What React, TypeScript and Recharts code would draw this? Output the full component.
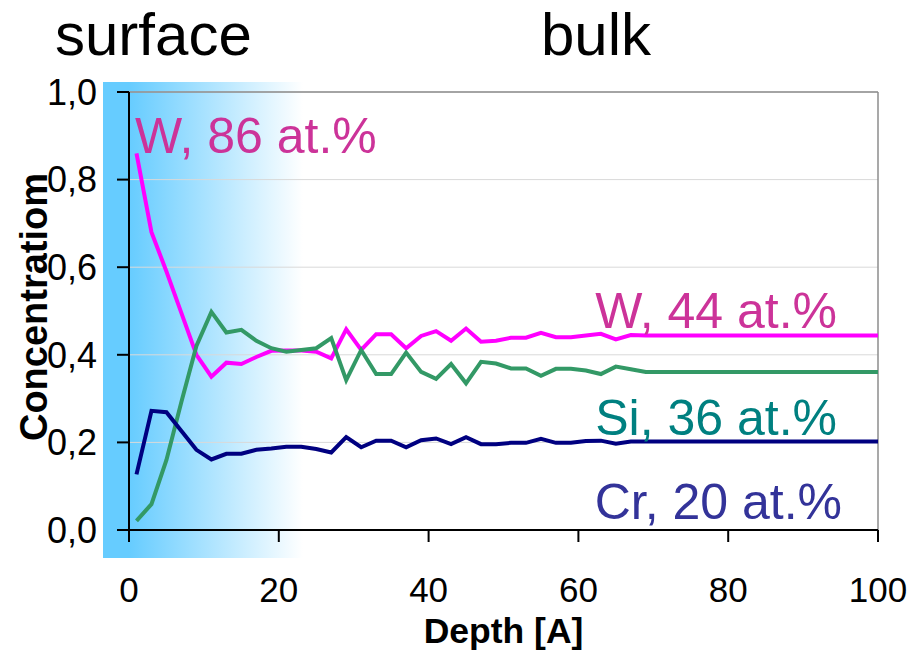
import React from 'react';
import {
  LineChart,
  Line,
  XAxis,
  YAxis,
  CartesianGrid,
  ReferenceLine
} from 'recharts';

// depth in angstrom, sampled every 2 A near the surface
const depth = [
  1, 3, 5, 7, 9, 11, 13, 15, 17, 19, 21, 23, 25, 27, 29, 31, 33, 35,
  37, 39, 41, 43, 45, 47, 49, 51, 53, 55, 57, 59, 61, 63, 65, 67, 69, 100,
];

const tungsten = [
  0.86, 0.68, 0.59, 0.495, 0.4, 0.35, 0.382, 0.379, 0.395, 0.409, 0.41, 0.41,
  0.407, 0.392, 0.458, 0.411, 0.447, 0.447, 0.415, 0.443, 0.454, 0.432, 0.46,
  0.43, 0.432, 0.439, 0.439, 0.45, 0.44, 0.44, 0.444, 0.448, 0.435, 0.445,
  0.444, 0.444,
];

const silicon = [
  0.021, 0.059, 0.16, 0.293, 0.42, 0.498, 0.451, 0.457, 0.432, 0.415, 0.407,
  0.411, 0.415, 0.438, 0.342, 0.411, 0.356, 0.356, 0.405, 0.361, 0.345, 0.379,
  0.335, 0.384, 0.38, 0.369, 0.369, 0.352, 0.368, 0.368, 0.364, 0.356, 0.373,
  0.367, 0.361, 0.361,
];

const chromium = [
  0.127, 0.272, 0.269, 0.226, 0.183, 0.161, 0.174, 0.174, 0.183, 0.186, 0.19,
  0.19, 0.185, 0.177, 0.212, 0.189, 0.204, 0.204, 0.189, 0.205, 0.209, 0.196,
  0.212, 0.196, 0.196, 0.199, 0.199, 0.208, 0.199, 0.199, 0.203, 0.204, 0.197,
  0.202, 0.202, 0.202,
];

const xTicks = [0, 20, 40, 60, 80, 100];
const yTicks = [0, 0.2, 0.4, 0.6, 0.8, 1.0];

const data = depth.map((d, i) => ({
  depth: d,
  W: tungsten[i],
  Si: silicon[i],
  Cr: chromium[i],
}));

const FONT = '"Liberation Sans", Arial, sans-serif';

const fmtComma = (v: number) => v.toFixed(1).replace('.', ',');

export default function App() {
  return (
    <div style={{ position: 'absolute', left: 0, top: 0, width: 909, height: 650, background: '#fff' }}>
      {/* surface shading */}
      <div
        style={{
          position: 'absolute',
          left: 103,
          top: 82,
          width: 200,
          height: 476,
          background: 'linear-gradient(to right, #66ccff 0%, #66ccff 13%, #ffffff 100%)',
        }}
      />
      <div style={{ position: 'absolute', left: 0, top: 0 }}>
        <LineChart
          width={909}
          height={650}
          data={data}
          margin={{ top: 92, right: 31, left: 0, bottom: 0 }}
        >
          <CartesianGrid vertical={false} stroke="#d9d9d9" strokeWidth={1} />
          <XAxis
            dataKey="depth"
            type="number"
            domain={[0, 100]}
            ticks={xTicks}
            height={120}
            stroke="#000"
            strokeWidth={2}
            tickSize={12}
            tickMargin={35}
            tick={{ fontSize: 35, fill: '#000', fontFamily: FONT }}
            label={{
              content: () => (
                <text x={503.5} y={643} textAnchor="middle" fontSize={35.5} fontWeight="bold" fontFamily={FONT} fill="#000">
                  Depth [A]
                </text>
              ),
            }}
          />
          <YAxis
            type="number"
            domain={[0, 1]}
            ticks={yTicks}
            width={129}
            stroke="#000"
            strokeWidth={2}
            tickSize={12}
            tickMargin={20}
            tickFormatter={fmtComma}
            tick={{ fontSize: 36, fill: '#000', fontFamily: FONT }}
            label={{
              content: () => (
                <text
                  transform="translate(47,307) rotate(-90)"
                  textAnchor="middle"
                  fontSize={38}
                  fontWeight="bold"
                  fontFamily={FONT}
                  fill="#000"
                >
                  Concentratiom
                </text>
              ),
            }}
          />
          <ReferenceLine y={1} stroke="#8c8c8c" strokeWidth={1.5} />
          <ReferenceLine x={100} stroke="#8c8c8c" strokeWidth={1.5} />
          <Line type="linear" dataKey="W" stroke="#ff00ff" strokeWidth={4} dot={false} isAnimationActive={false} />
          <Line type="linear" dataKey="Si" stroke="#339966" strokeWidth={4} dot={false} isAnimationActive={false} />
          <Line type="linear" dataKey="Cr" stroke="#000080" strokeWidth={4} dot={false} isAnimationActive={false} />
        </LineChart>
      </div>
      {/* annotations */}
      <svg
        width={909}
        height={650}
        style={{ position: 'absolute', left: 0, top: 0, pointerEvents: 'none' }}
        fontFamily={FONT}
      >
        <text x={55} y={55} fontSize={60} fill="#000">surface</text>
        <text x={541} y={55} fontSize={60} fill="#000">bulk</text>
        <text x={135} y={153} fontSize={50} fill="#cc3399">W, 86 at.%</text>
        <text x={837} y={328} fontSize={50} fill="#cc3399" textAnchor="end">W, 44 at.%</text>
        <text x={837} y={435} fontSize={50} fill="#008080" textAnchor="end">Si, 36 at.%</text>
        <text x={842} y={519} fontSize={50} fill="#333399" textAnchor="end">Cr, 20 at.%</text>
      </svg>
    </div>
  );
}
